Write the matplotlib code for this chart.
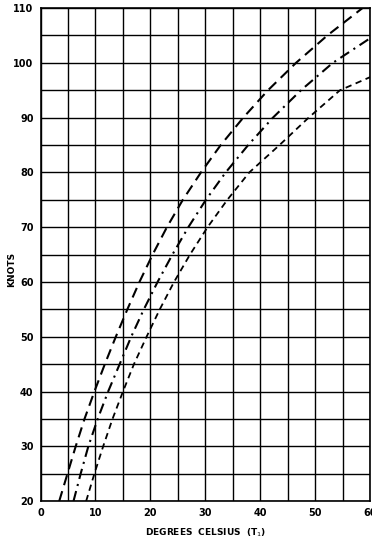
import matplotlib
matplotlib.use("Agg")
import matplotlib.pyplot as plt
import numpy as np

# Knots (common y values)
knots = [20, 25, 30, 35, 40, 45, 50, 55, 60, 65, 70, 75, 80, 85, 90, 95, 100, 105, 110]

# Degrees Celsius where each curve crosses the knot levels
temp_dashed = [3.4, 4.9, 6.4, 8.0, 9.8, 11.7, 13.7, 15.8, 18.0, 20.4, 23.0, 25.9, 29.2, 32.8, 36.9, 41.4, 46.5, 52.2, 58.6]
knots_dashdot = [20, 25, 30, 35, 40, 45, 50, 55, 60, 65, 70, 75, 80, 85, 90, 95, 100, 104.5]
temp_dashdot = [6.0, 7.3, 8.7, 10.4, 12.3, 14.4, 16.5, 18.8, 21.3, 24.0, 26.9, 30.1, 33.7, 37.8, 42.3, 47.4, 53.2, 60.0]
knots_short = [20, 25, 30, 35, 40, 45, 50, 55, 60, 65, 70, 75, 80, 85, 90, 95, 97.4]
temp_short = [8.3, 9.8, 11.4, 13.1, 15.0, 17.0, 19.3, 21.7, 24.3, 27.2, 30.4, 34.0, 38.0, 43.5, 48.8, 54.5, 60.0]

x_ticks = [0, 10, 20, 30, 40, 50, 60]
y_ticks = [20, 30, 40, 50, 60, 70, 80, 90, 100, 110]

fig = plt.figure(figsize=(3.72, 5.40), dpi=100)
ax = fig.add_axes([0.109, 0.072, 0.886, 0.913])

ax.plot(temp_dashed, knots, color="black", lw=1.5, linestyle=(0, (5, 3)))
ax.plot(temp_dashdot, knots_dashdot, color="black", lw=1.5, linestyle=(0, (5, 2.5, 1, 2.5)))
ax.plot(temp_short, knots_short, color="black", lw=1.3, linestyle=(0, (3.5, 2.5)))

ax.set_xlim(0, 60)
ax.set_ylim(20, 110)
ax.set_xticks(np.arange(0, 61, 5))
ax.set_yticks(np.arange(20, 111, 5))
ax.set_xticklabels([str(v) if v in x_ticks else "" for v in np.arange(0, 61, 5)])
ax.set_yticklabels([str(v) if v in y_ticks else "" for v in np.arange(20, 111, 5)])
ax.tick_params(length=0, labelsize=7, pad=5)
for lab in ax.get_xticklabels() + ax.get_yticklabels():
    lab.set_fontweight("bold")

ax.grid(True, color="black", linewidth=1.0)
for sp in ax.spines.values():
    sp.set_linewidth(1.2)

ax.set_xlabel("DEGREES  CELSIUS  (T$_1$)", fontsize=6.5, fontweight="bold", labelpad=6)
ax.set_ylabel("KNOTS", fontsize=6.5, fontweight="bold")
ax.yaxis.set_label_coords(-0.075, 0.47)

fig.savefig("out.png", dpi=100)
